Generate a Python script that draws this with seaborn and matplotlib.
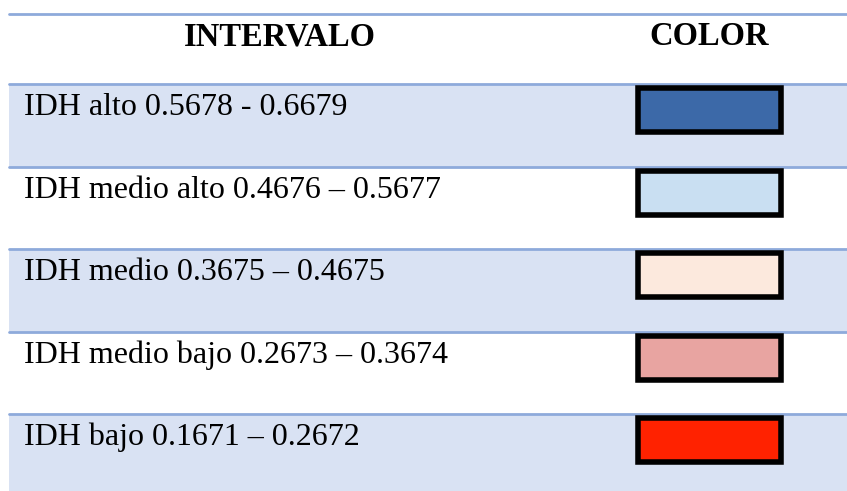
import matplotlib
matplotlib.use("Agg")
import matplotlib.pyplot as plt
from matplotlib.patches import Rectangle
import seaborn as sns

# table content
headers = ["INTERVALO", "COLOR"]
labels = ["IDH alto 0.5678 - 0.6679",
          "IDH medio alto 0.4676 \u2013 0.5677",
          "IDH medio 0.3675 \u2013 0.4675",
          "IDH medio bajo 0.2673 \u2013 0.3674",
          "IDH bajo 0.1671 \u2013 0.2672"]
swatches = ["#3C69A8", "#C9DFF2", "#FCE9DD", "#E8A4A1", "#FF2200"]

band = '#D9E2F3'
rule = '#8EAADB'

sns.set_theme(style="white")
plt.rcParams['font.family'] = ['Liberation Serif', 'DejaVu Serif']

fig = plt.figure(figsize=(8.47, 4.91), dpi=100)
ax = fig.add_axes([0, 0, 1, 1])
ax.set_xlim(0, 847)
ax.set_ylim(491, 0)
ax.axis('off')

x0, x1 = 9, 847
head_top = 14
row_top = 84
row_h = 82.5

# header
ax.plot([x0, x1], [head_top, head_top], color=rule, lw=2)
ax.text(280, 45, headers[0], ha='center', va='baseline', fontsize=23.5,
        fontweight='bold', color='black')
ax.text(709, 45, headers[1], ha='center', va='baseline', fontsize=23.5,
        fontweight='bold', color='black')

for i, (lab, col) in enumerate(zip(labels, swatches)):
    top = row_top + i * row_h
    h = row_h if i < len(labels) - 1 else 491 - top
    if i % 2 == 0:
        ax.add_patch(Rectangle((x0, top), x1 - x0, h, facecolor=band, edgecolor='none', zorder=0))
    ax.plot([x0, x1], [top, top], color=rule, lw=2, zorder=1)
    ax.text(24, top + 31, lab, ha='left', va='baseline', fontsize=23, color='black')
    ax.add_patch(Rectangle((638, top + 4), 143, 44, facecolor=col,
                           edgecolor='black', lw=4, zorder=2))

fig.savefig('out.png', dpi=100)
